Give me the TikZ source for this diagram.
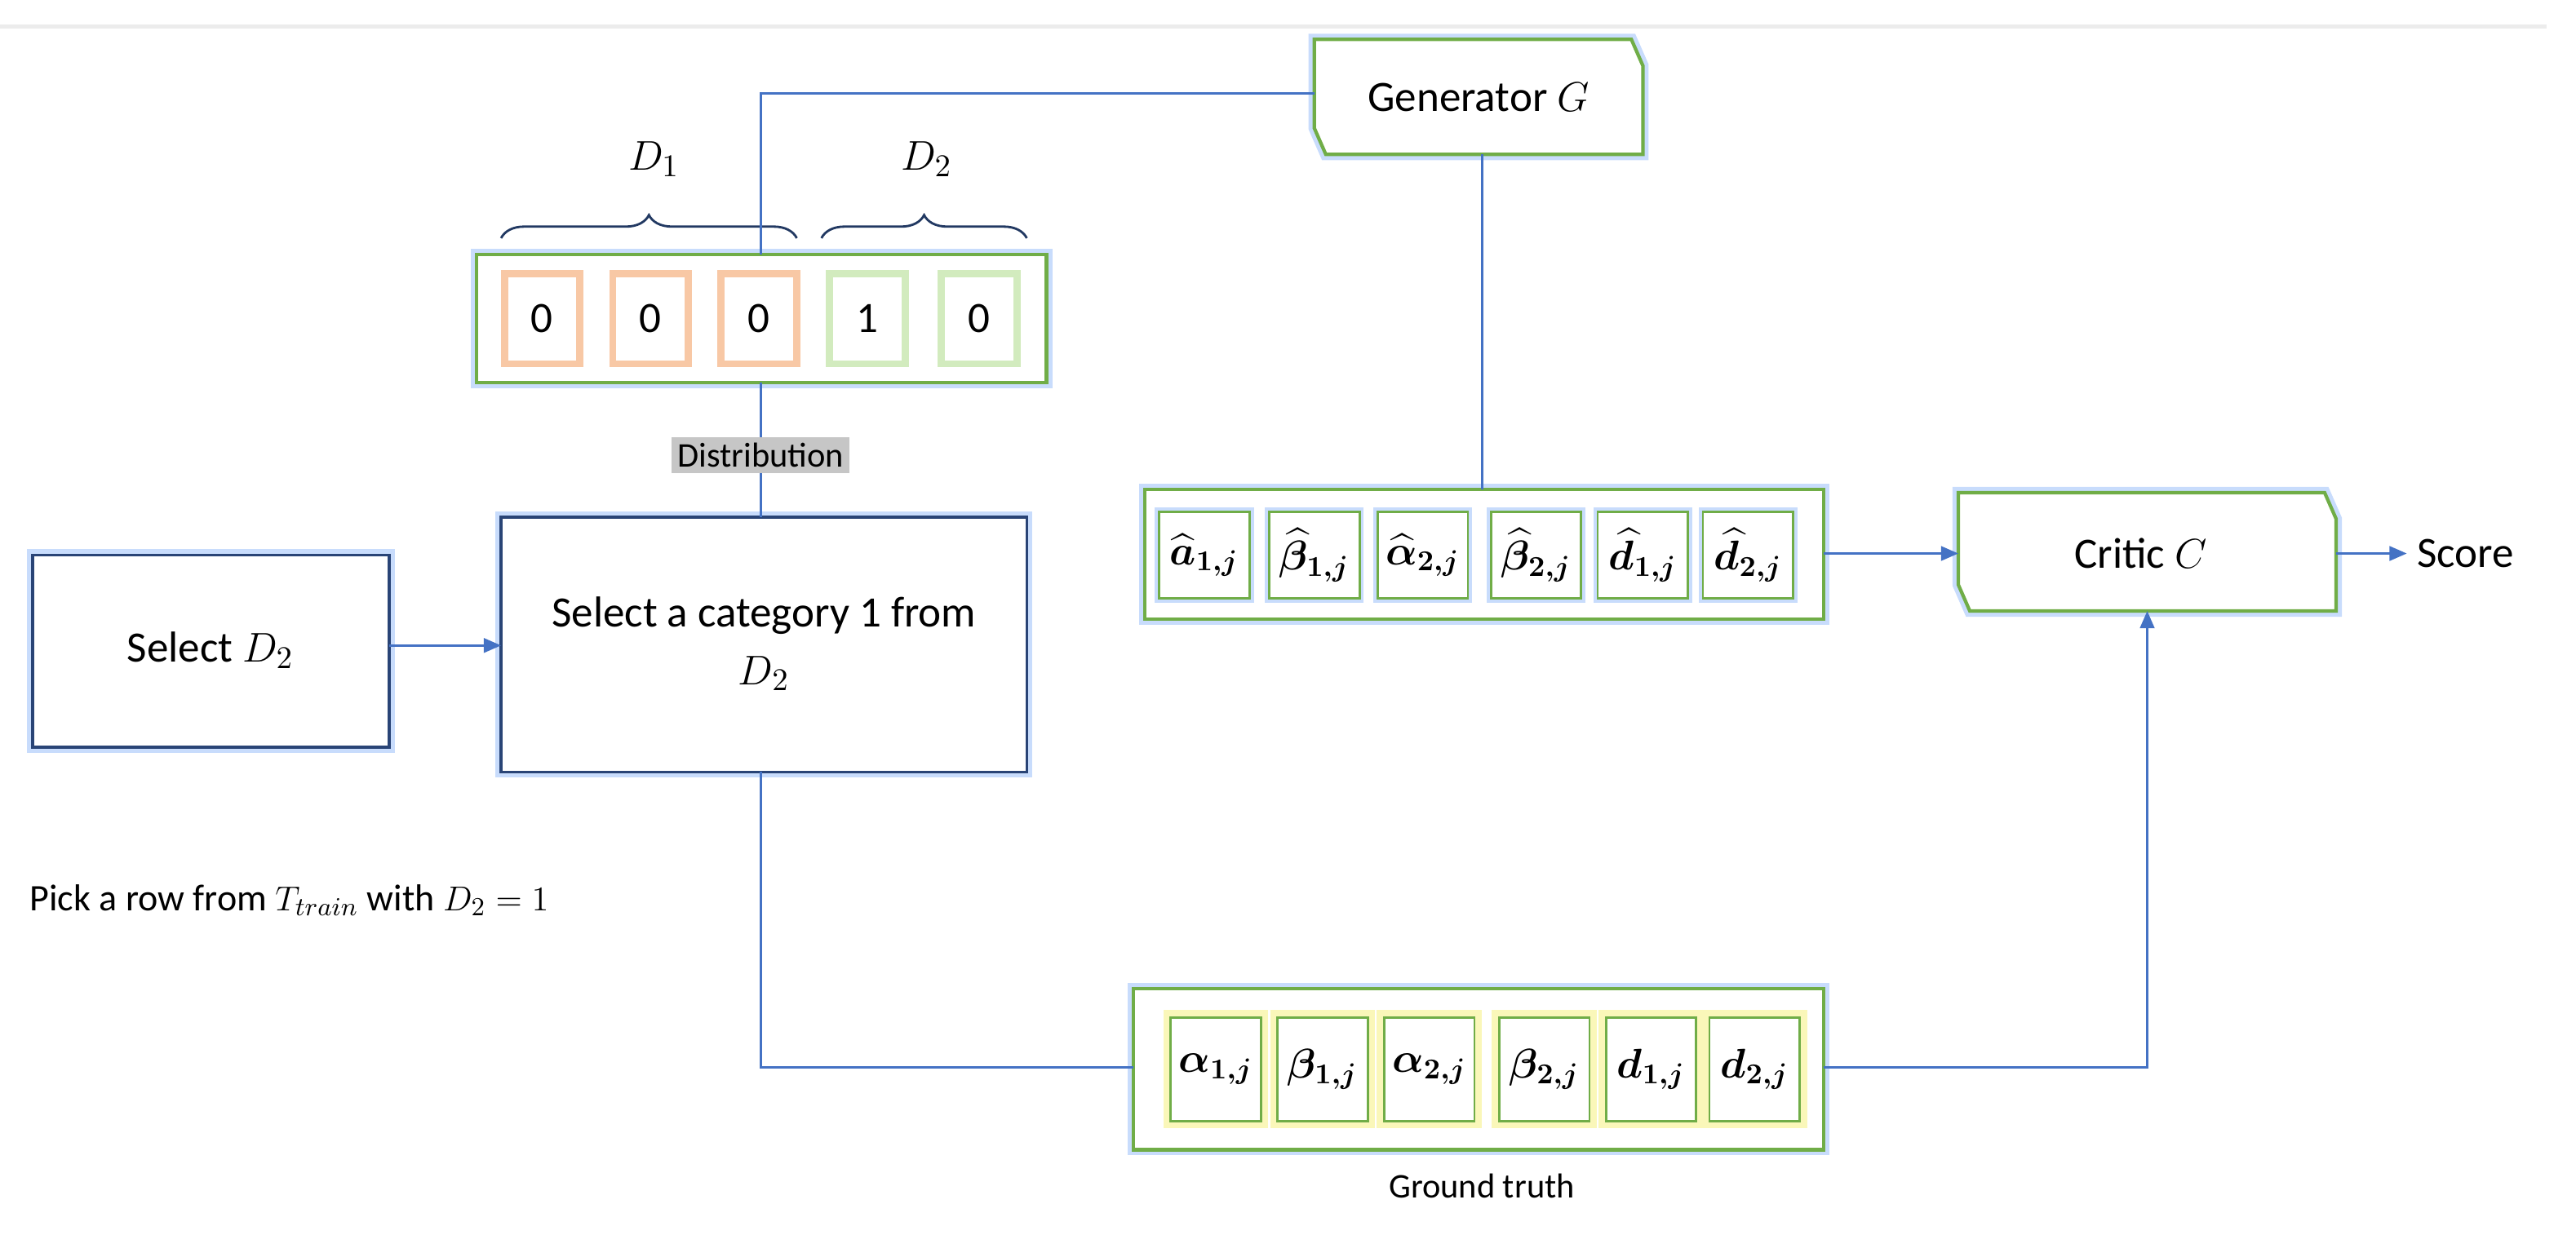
\documentclass[tikz,border=0pt]{standalone}
\usepackage{amsmath,bm}
\usepackage{fontspec}
\setmainfont{Carlito}
\usetikzlibrary{decorations.pathreplacing,arrows.meta}
\definecolor{lnk}{RGB}{68,114,196}
\definecolor{gbord}{RGB}{112,173,71}
\definecolor{glow}{RGB}{200,220,252}
\definecolor{orng}{RGB}{248,200,165}
\definecolor{lgrn}{RGB}{210,235,190}
\definecolor{ylw}{RGB}{250,247,185}
\begin{document}
\begin{tikzpicture}[x=0.02cm,y=-0.02cm,
  lk/.style={draw=lnk,line width=0.8pt},
  ar/.style={lk,-{Triangle[length=6pt,width=5pt]}},
  outer/.style={draw=gbord,line width=1.2pt,fill=white,
     preaction={draw=glow,line width=4pt}},
  bitc/.style={draw=#1,line width=2.5pt,fill=white,inner sep=0pt,minimum width=0.92cm,minimum height=1.1cm,font=\fontsize{15}{18}\selectfont},
  plain/.style={draw=lnk!60!black,line width=1pt,fill=white,preaction={draw=glow,line width=4pt}},
  txt/.style={font=\fontsize{15}{18}\selectfont}]
\useasboundingbox (0,0) rectangle (1568,751.6);
\draw[gray!15,line width=1.5pt] (0,16) -- (1550,16);
% Generator
\draw[outer] (800,24) -- (993,24) -- (1000,40) -- (1000,94) -- (807,94) -- (800,78) -- cycle;
\node[txt] (gen) at (900,59) {Generator $G$};
\coordinate (genL) at (800,57);
\coordinate (genB) at (902,94);
% Critic
\draw[outer] (1192,300) -- (1415,300) -- (1422,316) -- (1422,372) -- (1199,372) -- (1192,356) -- cycle;
\node[txt] (cri) at (1303,337) {Critic $C$};
\coordinate (criL) at (1192,337);
\coordinate (criR) at (1422,337);
\coordinate (criB) at (1307,372);
\node[txt,anchor=west] (score) at (1465,337) {Score};
% bits
\draw[outer] (290,155) rectangle (637,233);
\coordinate (bitT) at (463,155);
\coordinate (bitB) at (463,233);
\foreach \x/\v/\c [count=\i] in {330/0/orng,396/0/orng,462/0/orng,528/1/lgrn,596/0/lgrn}
  \node[bitc=\c] (b\i) at (\x,194) {\v};
\draw[decorate,decoration={brace,amplitude=8pt},draw=lnk!50!black,line width=0.8pt] (305,145) -- (485,145);
\draw[decorate,decoration={brace,amplitude=8pt},draw=lnk!50!black,line width=0.8pt] (500,145) -- (625,145);
\node[txt] (d1) at (398,97) {$D_1$};
\node[txt] (d2) at (564,97) {$D_2$};
% boxes
\draw[plain] (20,338) rectangle (237,455);
\node[txt] (sel) at (128,396) {Select $D_2$};
\coordinate (selR) at (237,393);
\draw[plain] (305,315) rectangle (625,470);
\node[txt,align=center] (cat) at (465,392) {Select a category 1 from\\[2pt]$D_2$};
\coordinate (catL) at (305,393);
\coordinate (catT) at (463,315);
\coordinate (catB) at (463,470);
\node[txt,anchor=west] (pick) at (12,548) {\fontsize{13}{15}\selectfont Pick a row from $T_{train}$ with $D_2=1$};
% generator output box
\draw[outer] (697,298) rectangle (1110,377);
\coordinate (goT) at (902,298);
\coordinate (goR) at (1110,337);
\foreach \x/\t [count=\i] in {733/{\widehat{\bm a}_{\bm{1,j}}},800/{\widehat{\bm\beta}_{\bm{1,j}}},866/{\widehat{\bm\alpha}_{\bm{2,j}}},935/{\widehat{\bm\beta}_{\bm{2,j}}},1000/{\widehat{\bm d}_{\bm{1,j}}},1064/{\widehat{\bm d}_{\bm{2,j}}}}
  \node[draw=gbord,line width=0.8pt,fill=white,preaction={draw=glow,line width=3pt},minimum width=1.1cm,minimum height=1.06cm,inner sep=0pt,font=\fontsize{14}{17}\selectfont] (o\i) at (\x,338) {$\t$};
% ground truth
\draw[outer] (690,602) rectangle (1110,700);
\coordinate (gtL) at (690,650);
\coordinate (gtR) at (1110,650);
\foreach \x/\t [count=\i] in {740/{\bm\alpha_{\bm{1,j}}},805/{\bm\beta_{\bm{1,j}}},870/{\bm\alpha_{\bm{2,j}}},940/{\bm\beta_{\bm{2,j}}},1005/{\bm d_{\bm{1,j}}},1068/{\bm d_{\bm{2,j}}}}
  \node[draw=gbord,line width=0.8pt,fill=white,preaction={draw=ylw,line width=5pt},minimum width=1.1cm,minimum height=1.26cm,inner sep=0pt,font=\fontsize{14}{17}\selectfont] (g\i) at (\x,651) {$\t$};
\node[font=\fontsize{12}{14}\selectfont] (gtl) at (902,722) {Ground truth};
% connectors
\draw[lk] (genL) -- (463,57) -- (bitT);
\draw[lk] (bitB) -- (catT);
\node[fill=gray!45,inner sep=2pt,font=\fontsize{12}{14}\selectfont] (dist) at (463,277) {Distribution};
\draw[ar] (selR) -- (catL);
\draw[lk] (genB) -- (goT);
\draw[lk] (catB) -- (463,650) -- (gtL);
\draw[ar] (goR) -- (criL);
\draw[ar] (criR) -- (score.west);
\draw[ar] (gtR) -- (1307,650) -- (criB);
\end{tikzpicture}
\end{document}
